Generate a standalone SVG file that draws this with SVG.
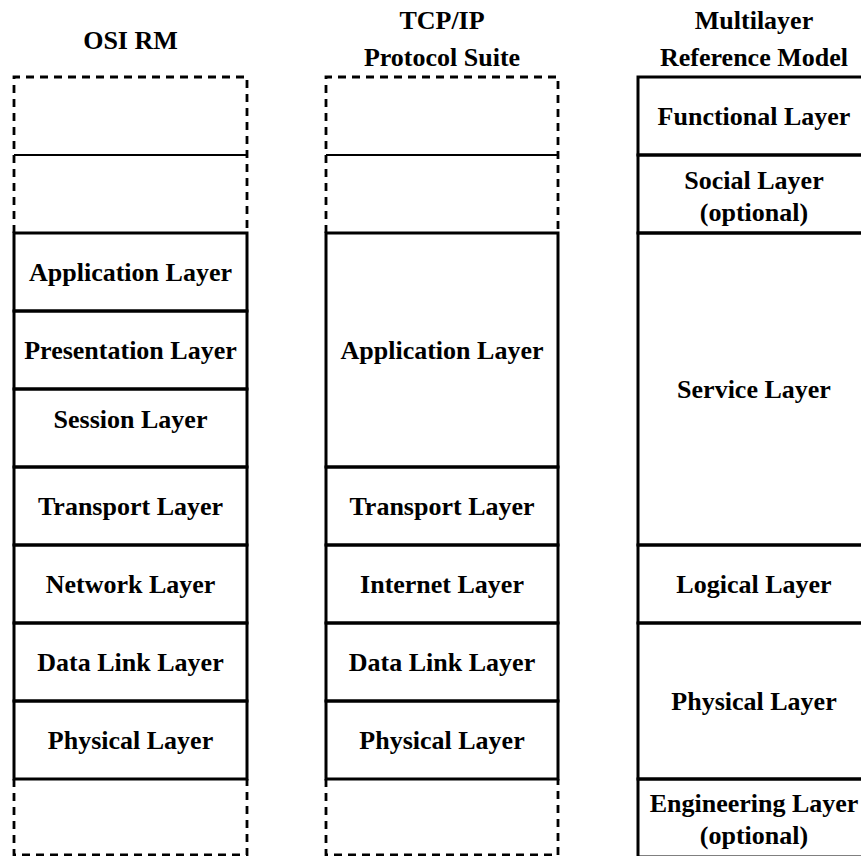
<svg xmlns="http://www.w3.org/2000/svg" width="861" height="856" viewBox="0 0 861 856">
<style>
text{font-family:"Liberation Serif","Times New Roman",serif;font-weight:bold;font-size:26px;fill:#000;text-anchor:middle}
.dash{fill:none;stroke:#000;stroke-width:2.8;stroke-dasharray:8 6}
.thin{fill:none;stroke:#000;stroke-width:2.2}
.box{fill:none;stroke:#000;stroke-width:3}
</style>
<rect width="861" height="856" fill="#fff"/>
<g id="titles">
<text x="130.5" y="49">OSI RM</text>
<text x="442" y="29">TCP/IP</text>
<text x="442" y="66">Protocol Suite</text>
<text x="754" y="29">Multilayer</text>
<text x="754" y="66">Reference Model</text>
</g>
<g id="connectors">
<path class="dash" d="M14 233 V77 H247 V233"/>
<path class="dash" d="M14 779 V855 H247 V779"/>
<line class="thin" x1="14" y1="155" x2="247" y2="155"/>
<path class="dash" d="M326 233 V77 H558 V233"/>
<path class="dash" d="M326 779 V855 H558 V779"/>
<line class="thin" x1="326" y1="155" x2="558" y2="155"/>
</g>
<g id="osi">
<g id="osi-app"><rect class="box" x="14" y="233" width="233" height="78"/><text x="130.5" y="281">Application Layer</text></g>
<g id="osi-pres"><rect class="box" x="14" y="311" width="233" height="78"/><text x="130.5" y="359">Presentation Layer</text></g>
<g id="osi-sess"><rect class="box" x="14" y="389" width="233" height="78"/><text x="130.5" y="428">Session Layer</text></g>
<g id="osi-trans"><rect class="box" x="14" y="467" width="233" height="78"/><text x="130.5" y="515">Transport Layer</text></g>
<g id="osi-net"><rect class="box" x="14" y="545" width="233" height="78"/><text x="130.5" y="593">Network Layer</text></g>
<g id="osi-dl"><rect class="box" x="14" y="623" width="233" height="78"/><text x="130.5" y="671">Data Link Layer</text></g>
<g id="osi-phy"><rect class="box" x="14" y="701" width="233" height="78"/><text x="130.5" y="749">Physical Layer</text></g>
</g>
<g id="tcp">
<g id="tcp-app"><rect class="box" x="326" y="233" width="232" height="234"/><text x="442" y="359">Application Layer</text></g>
<g id="tcp-trans"><rect class="box" x="326" y="467" width="232" height="78"/><text x="442" y="515">Transport Layer</text></g>
<g id="tcp-int"><rect class="box" x="326" y="545" width="232" height="78"/><text x="442" y="593">Internet Layer</text></g>
<g id="tcp-dl"><rect class="box" x="326" y="623" width="232" height="78"/><text x="442" y="671">Data Link Layer</text></g>
<g id="tcp-phy"><rect class="box" x="326" y="701" width="232" height="78"/><text x="442" y="749">Physical Layer</text></g>
</g>
<g id="mlrm">
<g id="ml-func"><rect class="box" x="638" y="77" width="240" height="78"/><text x="754" y="125">Functional Layer</text></g>
<g id="ml-soc"><rect class="box" x="638" y="155" width="240" height="78"/><text x="754" y="189">Social Layer</text><text x="754" y="221">(optional)</text></g>
<g id="ml-serv"><rect class="box" x="638" y="233" width="240" height="312"/><text x="754" y="398">Service Layer</text></g>
<g id="ml-log"><rect class="box" x="638" y="545" width="240" height="78"/><text x="754" y="593">Logical Layer</text></g>
<g id="ml-phy"><rect class="box" x="638" y="623" width="240" height="156"/><text x="754" y="710">Physical Layer</text></g>
<g id="ml-eng"><rect class="box" x="638" y="779" width="240" height="78"/><text x="754" y="812">Engineering Layer</text><text x="754" y="844">(optional)</text></g>
</g>
</svg>
